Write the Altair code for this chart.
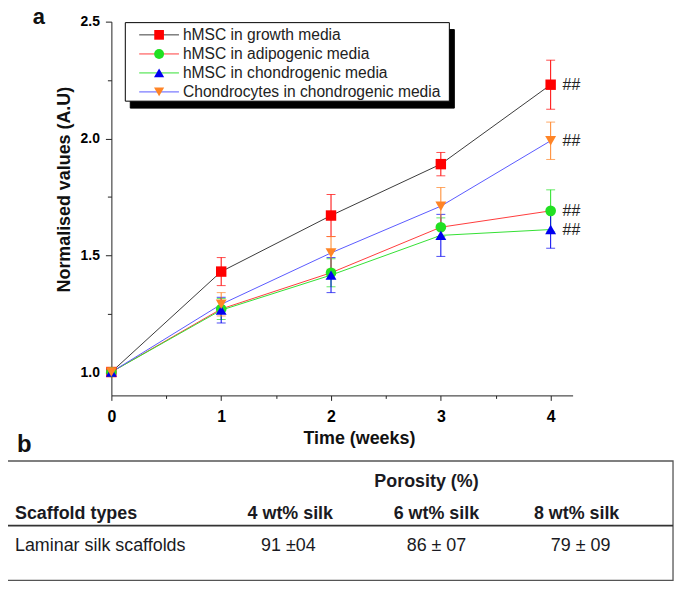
import altair as alt
import pandas as pd

# ---------------- data ----------------
weeks = [0, 1, 2, 3, 4]
series_names = [
    "hMSC in growth media",
    "hMSC in adipogenic media",
    "hMSC in chondrogenic media",
    "Chondrocytes in chondrogenic media",
]
growth_mean = [1.00, 1.43, 1.67, 1.89, 2.23]
growth_err = [0.0, 0.06, 0.09, 0.05, 0.105]
adipo_mean = [1.00, 1.27, 1.425, 1.62, 1.69]
adipo_err = [0.0, 0.045, 0.06, 0.04, 0.09]
chondro_mean = [1.00, 1.265, 1.415, 1.585, 1.61]
chondro_err = [0.0, 0.055, 0.075, 0.09, 0.08]
chondrocyte_mean = [1.00, 1.29, 1.51, 1.71, 1.99]
chondrocyte_err = [0.0, 0.05, 0.07, 0.08, 0.08]
sig_labels = ["##", "##", "##", "##"]

x_ticks = [0, 0.5, 1, 1.5, 2, 2.5, 3, 3.5, 4]
y_ticks = [1.0, 1.25, 1.5, 1.75, 2.0, 2.25, 2.5]

table_header = "Porosity (%)"
table_cols = ["Scaffold types", "4 wt% silk", "6 wt% silk", "8 wt% silk"]
table_row = ["Laminar silk scaffolds", "91 \u00b104", "86 \u00b1 07", "79 \u00b1 09"]

means = [growth_mean, adipo_mean, chondro_mean, chondrocyte_mean]
errs = [growth_err, adipo_err, chondro_err, chondrocyte_err]

# ---------------- styles ----------------
FONT = "Liberation Sans"
line_colors = ["#3a3a3a", "#ff3b3b", "#33e033", "#5a5aff"]
marker_colors = ["#ff0000", "#22e022", "#0000f0", "#ff8426"]
marker_shapes = ["square", "circle", "triangle-up", "triangle-down"]
marker_sizes = [110, 115, 120, 120]

W, H = 464, 376
xs = alt.Scale(domain=[0, 4.2], nice=False, zero=False)
ys = alt.Scale(domain=[0.9, 2.5], nice=False, zero=False)

xaxis = alt.Axis(
    values=x_ticks, title=None, grid=False,
    labelExpr="datum.value % 1 === 0 ? format(datum.value, 'd') : ''",
    tickSize={"condition": {"test": "datum.value % 1 !== 0", "value": 3}, "value": 5},
    domainColor="#222", tickColor="#222", labelColor="black",
    labelFont=FONT, labelFontWeight="bold", labelFontSize=16, labelPadding=8,
    labelFlush=False,
)
yaxis = alt.Axis(
    values=y_ticks, title=None, grid=False,
    labelExpr="datum.value % 0.5 === 0 ? format(datum.value, '.1f') : ''",
    tickSize={"condition": {"test": "datum.value % 0.5 !== 0", "value": 4}, "value": 6},
    domainColor="#222", tickColor="#222", labelColor="black",
    labelFont=FONT, labelFontWeight="bold", labelFontSize=14, labelPadding=6,
    labelFlush=False,
)

X = alt.X("week:Q", scale=xs, axis=xaxis)
Y = alt.Y("mean:Q", scale=ys, axis=yaxis)

layers = []
# lines first
frames = []
for i, name in enumerate(series_names):
    df = pd.DataFrame({
        "week": weeks,
        "mean": means[i],
        "lo": [m - e for m, e in zip(means[i], errs[i])],
        "hi": [m + e for m, e in zip(means[i], errs[i])],
        "err": errs[i],
        "series": name,
    })
    frames.append(df)
    layers.append(alt.Chart(df).mark_line(color=line_colors[i], strokeWidth=1).encode(x=X, y=Y))

# error bars + markers
for i, name in enumerate(series_names):
    df = frames[i]
    dfe = df[df["err"] > 0]
    c = marker_colors[i]
    layers.append(alt.Chart(dfe).mark_rule(color=c, strokeWidth=1).encode(
        x=X, y=alt.Y("lo:Q", scale=ys, axis=yaxis), y2="hi:Q"))
    layers.append(alt.Chart(dfe).mark_tick(color=c, orient="horizontal", size=9, thickness=1).encode(
        x=X, y=alt.Y("lo:Q", scale=ys, axis=yaxis)))
    layers.append(alt.Chart(dfe).mark_tick(color=c, orient="horizontal", size=9, thickness=1).encode(
        x=X, y=alt.Y("hi:Q", scale=ys, axis=yaxis)))
for i, name in enumerate(series_names):
    df = frames[i]
    layers.append(alt.Chart(df).mark_point(
        shape=marker_shapes[i], filled=True, size=marker_sizes[i], color=marker_colors[i], opacity=1
    ).encode(x=X, y=Y))
    last = df[df["week"] == weeks[-1]].assign(lab=sig_labels[i])
    layers.append(alt.Chart(last).mark_text(
        align="left", baseline="middle", dx=12, dy=0, fontSize=16, font=FONT, color="#222"
    ).encode(x=X, y=Y, text="lab:N"))


def label(s, x, y, size, weight="normal", align="left", baseline="alphabetic", angle=0, color="#111"):
    return alt.Chart(pd.DataFrame({"t": [s]})).mark_text(
        align=align, baseline=baseline, fontSize=size, fontWeight=weight, font=FONT,
        angle=angle, color=color
    ).encode(x=alt.value(x), y=alt.value(y), text="t:N")


def box(x1, x2, y1, y2, **kw):
    return alt.Chart(pd.DataFrame({"t": [0]})).mark_rect(**kw).encode(
        x=alt.value(x1), x2=alt.value(x2), y=alt.value(y1), y2=alt.value(y2))


# legend
layers.append(box(19, 345, 8, 87, fill="black", stroke="black"))
layers.append(box(14, 340, 1, 80, fill="white", stroke="black", strokeWidth=1))
row_y = [13.3, 32.5, 51.6, 70.7]
for i, name in enumerate(series_names):
    ry = row_y[i]
    layers.append(alt.Chart(pd.DataFrame({"t": [0]})).mark_rule(color=line_colors[i], strokeWidth=1).encode(
        x=alt.value(28), x2=alt.value(68), y=alt.value(ry)))
    layers.append(alt.Chart(pd.DataFrame({"t": [0]})).mark_point(
        shape=marker_shapes[i], filled=True, size=marker_sizes[i] - 15, color=marker_colors[i], opacity=1
    ).encode(x=alt.value(48), y=alt.value(ry)))
    layers.append(label(name, 72, ry, 15.7, baseline="middle", color="#222"))

# axis titles and panel labels
layers.append(label("Time (weeks)", 249.5, 425, 18, weight="bold", align="center", color="#111"))
layers.append(label("Normalised values (A.U)", -42, 169, 18, weight="bold", align="center", angle=270, color="#111"))
layers.append(label("a", -79, 2, 22, weight="bold", color="#111"))
layers.append(label("b", -95, 433, 24, weight="bold", color="#111"))

# table
layers.append(box(-105, 565, 442, 562, fillOpacity=0, stroke="#555", strokeWidth=1.3))
layers.append(alt.Chart(pd.DataFrame({"t": [0]})).mark_rule(color="#333", strokeWidth=2).encode(
    x=alt.value(-105), x2=alt.value(565), y=alt.value(507)))
layers.append(label(table_header, 317, 468, 18, weight="bold", align="center", color="#1a1a22"))
col_x = [-97, 180, 327, 468]
row_x = [-97, 178, 327, 472]
for j in range(4):
    al = "left" if j == 0 else "center"
    layers.append(label(table_cols[j], col_x[j], 500, 18, weight="bold", align=al, color="#1a1a22"))
    layers.append(label(table_row[j], row_x[j], 533, 18, align=al, color="#1a1a22"))

chart = alt.layer(*layers).properties(
    width=W, height=H,
    autosize=alt.AutoSizeParams(type="none"),
    padding={"left": 104, "top": 12, "right": 104, "bottom": 187},
    background="white",
).configure_view(stroke=None)

chart.save("out.html", embed_options={"renderer": "svg", "actions": False})
